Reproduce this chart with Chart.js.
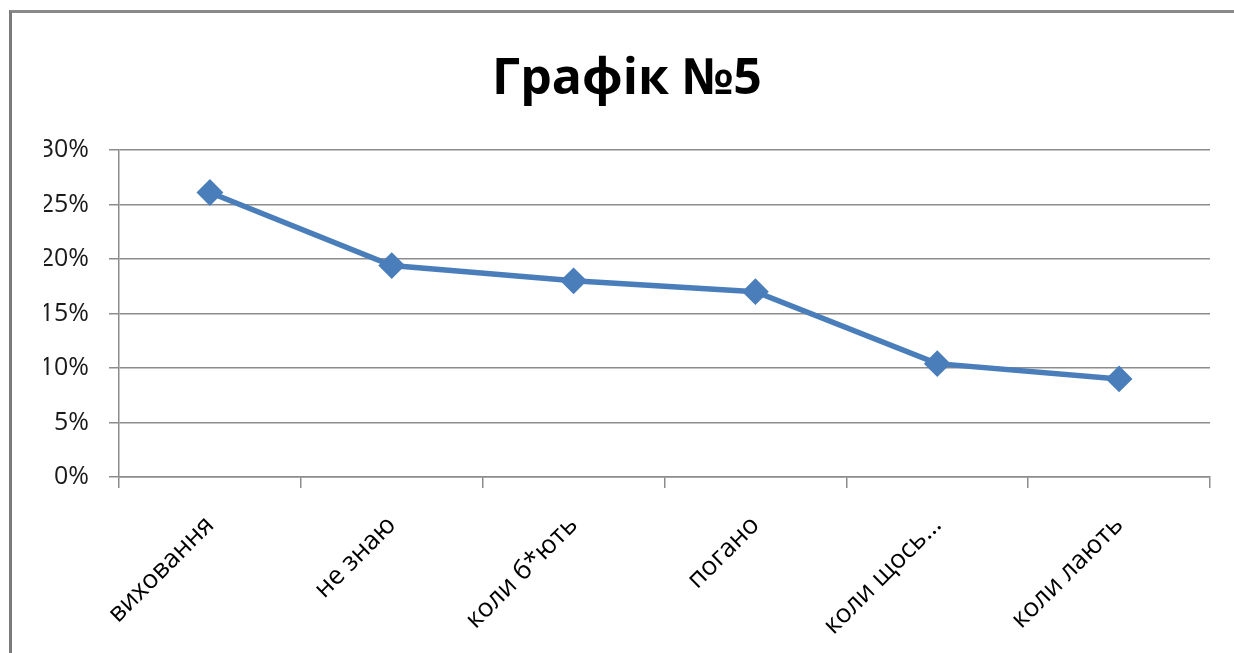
<!DOCTYPE html>
<html>
<head>
<meta charset="utf-8">
<script src="https://cdn.jsdelivr.net/npm/chart.js@4"></script>
<style>
  body { margin: 0; background: #fff; overflow: hidden; }
  .frame {
    position: absolute; left: 9px; top: 10px; width: 1300px; height: 700px;
    border-left: 3px solid #7a7a7a; border-top: 3px solid #8a8a8a;
  }
  #chart { position: absolute; left: 0; top: 0; }
</style>
</head>
<body>
<div class="frame"></div>
<canvas id="chart" width="1234" height="653"></canvas>
<script>
const categories = ['виховання', 'не знаю', 'коли б*ють', 'погано', 'коли щось…', 'коли лають'];
const shares = [26.1, 19.4, 18.0, 17.0, 10.4, 9.0];
const yTicks = [0, 5, 10, 15, 20, 25, 30];

const gridColor = '#8c8c8c';
const lineColor = '#4a7ebb';
const font = "'Open Sans', 'DejaVu Sans', sans-serif";

const ctx = document.getElementById('chart').getContext('2d');
new Chart(ctx, {
  type: 'line',
  data: {
    labels: categories,
    datasets: [{
      data: shares,
      borderColor: lineColor,
      borderWidth: 5.5,
      backgroundColor: lineColor,
      pointStyle: 'rectRot',
      pointRadius: 12,
      pointBorderWidth: 2,
      pointBorderColor: lineColor,
      pointBackgroundColor: lineColor,
      tension: 0,
    }],
  },
  options: {
    responsive: false,
    animation: false,
    // left padding + narrow y box keeps the plot at x=119 while centring the title like the original
    layout: { padding: { left: 44, right: 24, top: 0, bottom: 0 } },
    plugins: {
      legend: { display: false },
      tooltip: { enabled: false },
      title: {
        display: true,
        text: 'Графік №5',
        color: '#000',
        font: { family: font, size: 50, weight: 'bold', lineHeight: 1.2 },
        padding: { top: 50, bottom: 40 },
      },
    },
    scales: {
      x: {
        offset: true,
        grid: {
          offset: true,
          drawOnChartArea: false,
          drawTicks: true,
          tickLength: 11,
          color: gridColor,
          lineWidth: 1.5,
        },
        border: { color: gridColor, width: 1.5 },
        ticks: {
          autoSkip: false,
          maxRotation: 45,
          minRotation: 45,
          color: '#000',
          padding: 22,
          font: { family: font, size: 26 },
        },
        afterFit: (scale) => { scale.height = 176; },
      },
      y: {
        min: yTicks[0],
        max: yTicks[yTicks.length - 1],
        afterBuildTicks: (scale) => { scale.ticks = yTicks.map(v => ({ value: v })); },
        grid: { color: gridColor, lineWidth: 1.5, tickLength: 10 },
        border: { color: gridColor, width: 1.5 },
        ticks: {
          color: '#1a1a1a',
          padding: 20,
          font: { family: font, size: 25 },
          callback: (v) => v + '%',
        },
        afterFit: (scale) => { scale.width = 75; },
      },
    },
  },
});
</script>
</body>
</html>
